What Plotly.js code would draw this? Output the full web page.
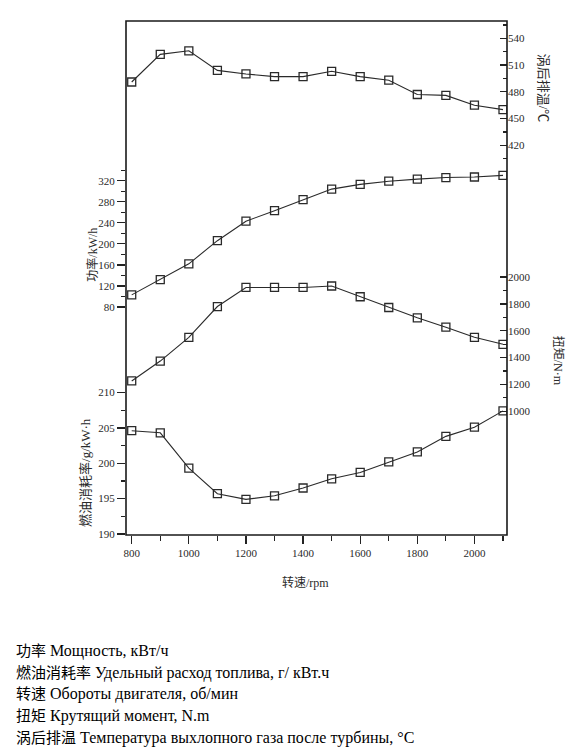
<!DOCTYPE html>
<html>
<head>
<meta charset="utf-8">
<script src="https://cdn.plot.ly/plotly-3.0.1.min.js"></script>
<style>
  html, body { margin: 0; padding: 0; background: #fff; width: 575px; height: 752px; overflow: hidden; }
  #chart { position: absolute; left: 0; top: 0; width: 575px; height: 752px; }
  #notes { position: absolute; left: 16px; top: 640px; font-family: "Liberation Serif", "Noto Sans CJK SC", serif; font-size: 16px; line-height: 20.7px; color: #000; white-space: nowrap; }
  #notes .zh { font-family: "Noto Sans CJK SC", sans-serif; font-size: 15px; }
</style>
</head>
<body>
<div id="chart"></div>
<div id="notes">
  <div><span class="zh">功率</span> Мощность, кВт/ч</div>
  <div><span class="zh">燃油消耗率</span> Удельный расход топлива, г/ кВт.ч</div>
  <div><span class="zh">转速</span> Обороты двигателя, об/мин</div>
  <div><span class="zh">扭矩</span> Крутящий момент, N.m</div>
  <div><span class="zh">涡后排温</span> Температура выхлопного газа после турбины, °С</div>
</div>
<script>
// ---- data ----
var rpm = [800, 900, 1000, 1100, 1200, 1300, 1400, 1500, 1600, 1700, 1800, 1900, 2000, 2100];
var power = [103, 132, 162, 206, 243, 263, 284, 304, 313, 319, 323, 326, 327, 330];
var torque = [1226, 1374, 1551, 1780, 1922, 1922, 1922, 1933, 1853, 1773, 1696, 1626, 1551, 1499];
var fuel = [204.6, 204.3, 199.3, 195.7, 194.9, 195.4, 196.5, 197.8, 198.7, 200.2, 201.6, 203.8, 205.1, 207.4];
var temp = [491, 522, 526, 504, 500, 497, 497, 503, 497, 493, 477, 476, 465, 460];

var xTicks = [800, 1000, 1200, 1400, 1600, 1800, 2000];
var xMinor = [900, 1100, 1300, 1500, 1700, 1900, 2100];
var powerTicks = [80, 120, 160, 200, 240, 280, 320];
var powerMinor = [100, 140, 180, 220, 260, 300, 340];
var fuelTicks = [190, 195, 200, 205, 210];
var fuelMinor = [192.5, 197.5, 202.5, 207.5];
var tempTicks = [420, 450, 480, 510, 540];
var tempMinor = [405, 435, 465, 495, 525, 555];
var torqueTicks = [1000, 1200, 1400, 1600, 1800, 2000];
var torqueMinor = [1100, 1300, 1500, 1700, 1900];

var lineColor = '#2a2a2a';
function series(y, axis) {
  return {
    x: rpm, y: y, yaxis: axis, type: 'scatter', mode: 'lines+markers',
    line: {color: lineColor, width: 1.1},
    marker: {symbol: 'square-open', size: 8, color: lineColor, line: {width: 1.3, color: lineColor}},
    hoverinfo: 'skip', showlegend: false
  };
}

var tickFont = {family: 'Liberation Serif, serif', size: 11, color: '#2a2a2a'};
var titleFont = {family: 'Liberation Serif, Noto Sans CJK SC, serif', size: 12, color: '#2a2a2a'};
var titleFontBig = {family: 'Liberation Serif, Noto Sans CJK SC, serif', size: 13, color: '#2a2a2a'};

function yax(opts) {
  var base = {
    showgrid: false, zeroline: false, showline: false,
    tickmode: 'array', tickfont: tickFont, tickcolor: '#222', tickwidth: 1.3,
    fixedrange: true
  };
  for (var k in opts) base[k] = opts[k];
  return base;
}

var L = 126, R = 506.7, T = 21, B = 535, W = 575, H = 752;
function px(x) { return (x - L) / (R - L); }
function py(y) { return (B - y) / (B - T); }

var layout = {
  width: W, height: H,
  margin: {l: L, r: W - R, t: T, b: H - B},
  paper_bgcolor: '#fff', plot_bgcolor: '#fff',
  showlegend: false,
  xaxis: {
    range: [780, 2114], showgrid: false, zeroline: false, showline: false,
    tickmode: 'array', tickvals: xTicks, ticks: 'outside', ticklen: 8, tickwidth: 1.3, tickcolor: '#222',
    tickfont: tickFont,
    minor: {tickmode: 'array', tickvals: xMinor, ticks: 'outside', ticklen: 5, tickwidth: 1.2, tickcolor: '#222', showgrid: false}
  },
  yaxis: yax({
    range: [-353.2, 623.4], side: 'left', tickvals: powerTicks, ticks: 'outside', ticklen: 8,
    minor: {tickmode: 'array', tickvals: powerMinor, ticks: 'outside', ticklen: 4, tickwidth: 1.2, tickcolor: '#222', showgrid: false}
  }),
  yaxis2: yax({
    range: [189.86, 262.5], side: 'left', overlaying: 'y', anchor: 'x', tickvals: fuelTicks, ticks: 'outside', ticklen: 8,
    minor: {tickmode: 'array', tickvals: fuelMinor, ticks: 'outside', ticklen: 4, tickwidth: 1.2, tickcolor: '#222', showgrid: false}
  }),
  yaxis3: yax({
    range: [-17, 559.4], side: 'right', overlaying: 'y', anchor: 'x', tickvals: tempTicks, ticks: 'inside', ticklen: 7,
    minor: {tickmode: 'array', tickvals: tempMinor, ticks: 'inside', ticklen: 4, tickwidth: 1.2, tickcolor: '#222', showgrid: false}
  }),
  yaxis4: yax({
    range: [79, 3906], side: 'right', overlaying: 'y', anchor: 'x', tickvals: torqueTicks, ticks: 'inside', ticklen: 7,
    minor: {tickmode: 'array', tickvals: torqueMinor, ticks: 'inside', ticklen: 4, tickwidth: 1.2, tickcolor: '#222', showgrid: false}
  }),
  shapes: [{
    type: 'rect', xref: 'paper', yref: 'paper', x0: 0, x1: 1, y0: 0, y1: 1,
    line: {color: '#1a1a1a', width: 1.6}, fillcolor: 'rgba(0,0,0,0)', layer: 'above'
  }],
  annotations: [
    {text: '功率/kW/h', xref: 'paper', yref: 'paper', x: px(91.7), y: py(255), textangle: -90, showarrow: false, font: titleFont, xanchor: 'center', yanchor: 'middle'},
    {text: '燃油消耗率/g/kW·h', xref: 'paper', yref: 'paper', x: px(85), y: py(472), textangle: -90, showarrow: false, font: titleFontBig, xanchor: 'center', yanchor: 'middle'},
    {text: '涡后排温/℃', xref: 'paper', yref: 'paper', x: px(543), y: py(88), textangle: 90, showarrow: false, font: titleFontBig, xanchor: 'center', yanchor: 'middle'},
    {text: '扭矩/N·m', xref: 'paper', yref: 'paper', x: px(558), y: py(361), textangle: 90, showarrow: false, font: titleFont, xanchor: 'center', yanchor: 'middle'},
    {text: '转速/rpm', xref: 'paper', yref: 'paper', x: px(305), y: py(582), showarrow: false, font: titleFont, xanchor: 'center', yanchor: 'middle'}
  ]
};

var data = [
  series(temp, 'y3'),
  series(power, 'y'),
  series(torque, 'y4'),
  series(fuel, 'y2')
];

Plotly.newPlot('chart', data, layout, {staticPlot: true, displayModeBar: false});
</script>
</body>
</html>
